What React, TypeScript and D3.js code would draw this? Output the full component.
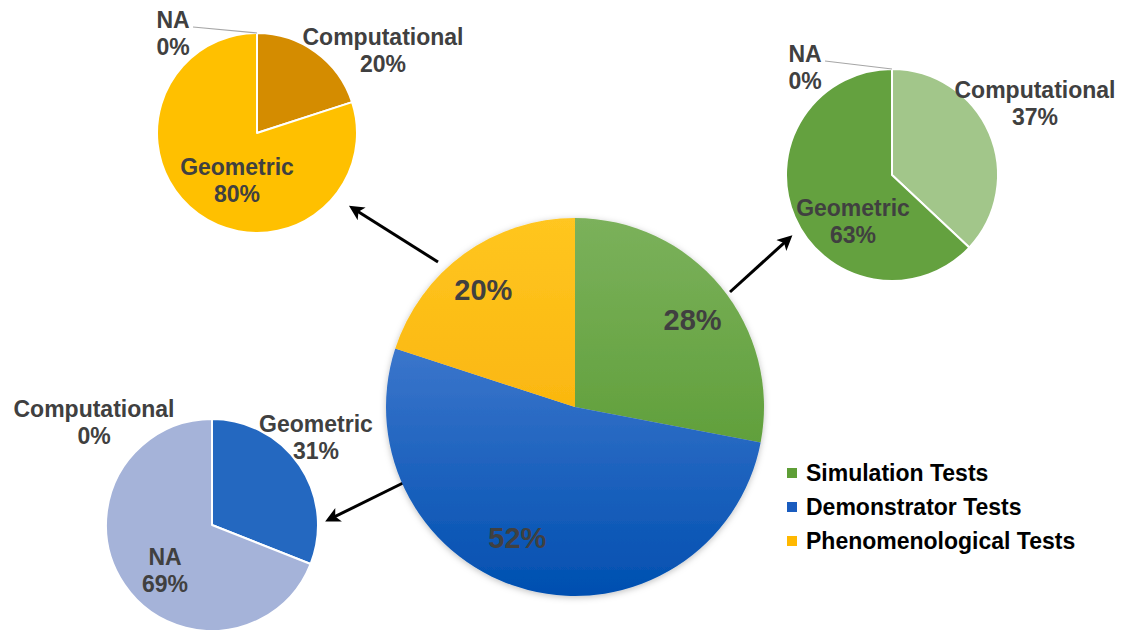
import React from "react";
import * as d3 from "d3";

// ---------- DATA ----------
const mainCategories = ["Simulation Tests", "Demonstrator Tests", "Phenomenological Tests"];
const mainValues = [28, 52, 20];

const phenCategories = ["Computational", "Geometric", "NA"];
const phenValues = [20, 80, 0];

const simCategories = ["Computational", "Geometric", "NA"];
const simValues = [37, 63, 0];

const demoCategories = ["Geometric", "NA", "Computational"];
const demoValues = [31, 69, 0];

// ---------- LAYOUT / STYLE ----------
const W = 1121;
const H = 630;
const FONT = "'Liberation Sans', Arial, sans-serif";
const LABEL_COLOR = "#404040";

const main = { cx: 575, cy: 407, r: 189 };
const mainGradients = [
  ["#7bb15b", "#4f9426"],
  ["#5a8ada", "#004fb0"],
  ["#ffc620", "#f6a800"],
];
const mainLabelNudge = [
  [4, 7],
  [-21, -12],
  [-5, 2],
];

interface SubPie {
  key: string;
  cx: number;
  cy: number;
  r: number;
  categories: string[];
  values: number[];
  colors: string[];
  labelPos: number[][];
  leader: boolean[];
}

const subPies: SubPie[] = [
  {
    key: "phen",
    cx: 257,
    cy: 133,
    r: 100,
    categories: phenCategories,
    values: phenValues,
    colors: ["#d48c00", "#ffc000", "#a5a5a5"],
    labelPos: [
      [126, -96],
      [-20, 34],
      [-84, -113],
    ],
    leader: [false, false, true],
  },
  {
    key: "sim",
    cx: 892,
    cy: 175,
    r: 106,
    categories: simCategories,
    values: simValues,
    colors: ["#a2c68a", "#64a13f", "#a5a5a5"],
    labelPos: [
      [143, -85],
      [-39, 33],
      [-87, -121],
    ],
    leader: [false, false, true],
  },
  {
    key: "demo",
    cx: 212,
    cy: 525,
    r: 106,
    categories: demoCategories,
    values: demoValues,
    colors: ["#2468c0", "#a5b3d9", "#a5a5a5"],
    labelPos: [
      [104, -101],
      [-47, 32],
      [-118, -116],
    ],
    leader: [false, false, false],
  },
];

const arrows = [
  { sub: 0, from: [-137, -145], to: [89, 71] },
  { sub: 1, from: [155, -115], to: [-97, 58] },
  { sub: 2, from: [-172, 76], to: [110, -2] },
];

const legendColors = ["#5e9e36", "#1a5cbf", "#ffb800"];

export default function App() {
  const pie = d3
    .pie<number>()
    .sort(null)
    .value((d) => d)
    .startAngle(0)
    .endAngle(2 * Math.PI);

  const mainArcs = pie(mainValues);
  const mainArc = d3.arc<d3.PieArcDatum<number>>().innerRadius(0).outerRadius(main.r);
  const mainLabelArc = d3
    .arc<d3.PieArcDatum<number>>()
    .innerRadius(main.r * 0.78)
    .outerRadius(main.r * 0.78);

  const legendY = d3.scaleBand<string>().domain(mainCategories).range([456, 558]);

  return (
    <svg
      width={W}
      height={H}
      style={{ position: "absolute", left: 0, top: 0, background: "#fff" }}
      fontFamily={FONT}
    >
      <defs>
        {mainGradients.map((g, i) => (
          <linearGradient
            key={i}
            id={`mg${i}`}
            gradientUnits="userSpaceOnUse"
            x1={0}
            x2={0}
            y1={-main.r}
            y2={main.r}
          >
            <stop offset="0" stopColor={g[0]} />
            <stop offset="1" stopColor={g[1]} />
          </linearGradient>
        ))}
        <filter id="shadow" x="-20%" y="-20%" width="140%" height="140%">
          <feDropShadow dx="0" dy="1.5" stdDeviation="3" floodColor="#000" floodOpacity="0.25" />
        </filter>
        <marker
          id="arrowhead"
          viewBox="0 0 10 10"
          refX="7"
          refY="5"
          markerWidth="5.5"
          markerHeight="5"
          orient="auto"
          markerUnits="strokeWidth"
        >
          <path d="M0,0 L10,5 L0,10 L2.5,5 z" fill="#000" />
        </marker>
      </defs>

      {/* arrows */}
      {arrows.map((a, i) => {
        const s = subPies[a.sub];
        const x1 = main.cx + a.from[0];
        const y1 = main.cy + a.from[1];
        const x2 = s.cx + a.to[0];
        const y2 = s.cy + a.to[1];
        const len = Math.hypot(x2 - x1, y2 - y1);
        const k = (len - 8) / len;
        return (
          <line
            key={i}
            x1={x1}
            y1={y1}
            x2={x1 + (x2 - x1) * k}
            y2={y1 + (y2 - y1) * k}
            stroke="#000"
            strokeWidth={3}
            markerEnd="url(#arrowhead)"
          />
        );
      })}

      {/* main pie */}
      <g transform={`translate(${main.cx},${main.cy})`}>
        <g filter="url(#shadow)">
          {mainArcs.map((a, i) => (
            <path key={i} d={mainArc(a) || ""} fill={`url(#mg${i})`} />
          ))}
        </g>
        {mainArcs.map((a, i) => {
          const [x, y] = mainLabelArc.centroid(a);
          return (
            <text
              key={i}
              x={x + mainLabelNudge[i][0]}
              y={y + mainLabelNudge[i][1]}
              textAnchor="middle"
              dy="0.35em"
              fontSize={29}
              fontWeight="bold"
              fill={LABEL_COLOR}
            >
              {`${mainValues[i]}%`}
            </text>
          );
        })}
      </g>

      {/* sub pies */}
      {subPies.map((s) => {
        const arcs = pie(s.values);
        const arc = d3.arc<d3.PieArcDatum<number>>().innerRadius(0).outerRadius(s.r);
        return (
          <g key={s.key} transform={`translate(${s.cx},${s.cy})`}>
            {arcs.map((a, i) => (
              <path
                key={i}
                d={arc(a) || ""}
                fill={s.colors[i]}
                stroke="#fff"
                strokeWidth={s.values[i] > 0 ? 2 : 0}
                strokeLinejoin="round"
              />
            ))}
            {arcs.map((a, i) => {
              const [lx, ly] = s.labelPos[i];
              return (
                <g key={`l${i}`}>
                  {s.leader[i] && (
                    <line
                      x1={lx + 20}
                      y1={ly + 7}
                      x2={Math.sin(a.startAngle) * s.r}
                      y2={-Math.cos(a.startAngle) * s.r}
                      stroke="#a6a6a6"
                      strokeWidth={1.2}
                    />
                  )}
                  <text
                    x={lx}
                    y={ly}
                    textAnchor="middle"
                    dy="0.35em"
                    fontSize={23}
                    fontWeight="bold"
                    fill={LABEL_COLOR}
                  >
                    {s.categories[i]}
                  </text>
                  <text
                    x={lx}
                    y={ly + 27}
                    textAnchor="middle"
                    dy="0.35em"
                    fontSize={23}
                    fontWeight="bold"
                    fill={LABEL_COLOR}
                  >
                    {`${s.values[i]}%`}
                  </text>
                </g>
              );
            })}
          </g>
        );
      })}

      {/* legend */}
      {mainCategories.map((c, i) => {
        const y = (legendY(c) || 0) + legendY.bandwidth() / 2;
        return (
          <g key={c}>
            <rect x={787} y={y - 5} width={10} height={10} fill={legendColors[i]} />
            <text x={806} y={y} dy="0.35em" fontSize={23} fontWeight="bold" fill="#000">
              {c}
            </text>
          </g>
        );
      })}
    </svg>
  );
}
